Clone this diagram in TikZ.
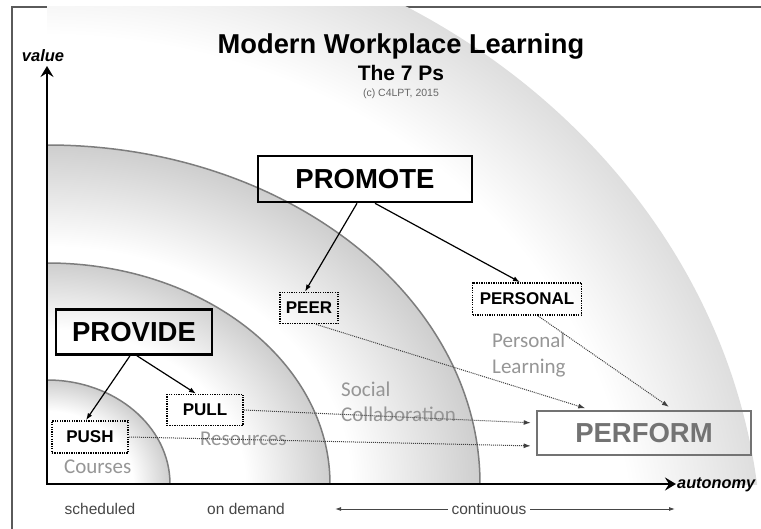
\documentclass[tikz,border=0pt]{standalone}
\usepackage{fontspec}
\setmainfont{Liberation Sans}
\newfontfamily\calib{Carlito}
\usetikzlibrary{arrows.meta}
\tikzset{>=latex}
\definecolor{framegray}{RGB}{90,90,90}
\definecolor{ringline}{RGB}{125,125,125}
\definecolor{ringfill}{RGB}{206,206,206}
\definecolor{outerfill}{RGB}{222,222,222}
\definecolor{labelgray}{RGB}{150,150,150}
\definecolor{performgray}{RGB}{115,115,115}
\definecolor{scalegray}{RGB}{70,70,70}
\pgfdeclareradialshading{ringshade}{\pgfpoint{0bp}{0bp}}{color(0bp)=(white); color(17.5bp)=(white); color(25bp)=(ringfill); color(50bp)=(ringfill)}
\pgfdeclareradialshading{outershade}{\pgfpoint{0bp}{0bp}}{color(0bp)=(white); color(20.5bp)=(white); color(25bp)=(outerfill); color(50bp)=(outerfill)}
\tikzstyle{ringedge}=[draw=ringline,line width=1.5pt]
\tikzstyle{axis}=[line width=2.8pt,{Stealth[length=11pt,width=13pt,inset=4pt]}-{Stealth[length=11pt,width=13pt,inset=4pt]}]
\tikzstyle{bigbox}=[draw=black,line width=2.6pt,inner sep=0pt,font=\fontsize{27.5}{28}\selectfont\bfseries]
\tikzstyle{dotbox}=[draw=black,line width=1.7pt,dash pattern=on 1.3pt off 1.1pt,inner sep=0pt,font=\fontsize{17}{17}\selectfont\bfseries]
\tikzstyle{ringlabel}=[text=labelgray,inner sep=0pt,anchor=base west,font=\calib\fontsize{21}{21}\selectfont]
\tikzstyle{scalelabel}=[text=scalegray,anchor=base,font=\fontsize{15.5}{16}\selectfont]
\tikzstyle{solidarrow}=[line width=1.2pt,-{Latex[length=7pt,width=5pt]}]
\tikzstyle{dotarrow}=[line width=1pt,black!75,dash pattern=on 1pt off 1pt,-{Latex[length=7pt,width=5pt]},shorten >=5pt]

\begin{document}
\begin{tikzpicture}[x=1pt,y=-1pt]
  \useasboundingbox (0,0) rectangle (761,529);
  \draw[framegray,line width=1.2pt] (12,529) -- (12,7) -- (761,7);

  % the rings
  \begin{scope}
    \clip (47,7) rectangle (761,484);
    \shade[shading=outershade] (47,560) ellipse [x radius=715,y radius=640];
    \shade[shading=ringshade] (47,484) ellipse [x radius=433,y radius=339];
    \draw[ringedge] (47,484) ellipse [x radius=433,y radius=339];
    \shade[shading=ringshade] (47,484) ellipse [x radius=283,y radius=221];
    \draw[ringedge] (47,484) ellipse [x radius=283,y radius=221];
    \shade[shading=ringshade] (47,484) ellipse [x radius=123,y radius=104];
    \draw[ringedge] (47,484) ellipse [x radius=123,y radius=104];
  \end{scope}

  % axes
  \coordinate (origin) at (47,484);
  \coordinate (ytop) at (47,66);
  \coordinate (xend) at (676,484);
  \draw[axis] (ytop) -- (origin) -- (xend);
  \node[anchor=base,font=\fontsize{16.5}{17}\selectfont\bfseries\itshape] (value) at (43,62) {value};
  \node[anchor=base west,inner sep=0pt,font=\fontsize{16.3}{17}\selectfont\bfseries\itshape] (autonomy) at (677,489) {autonomy};

  % titles
  \node[anchor=base,font=\fontsize{27.3}{28}\selectfont\bfseries] (title) at (401,54) {Modern Workplace Learning};
  \node[anchor=base,font=\fontsize{21}{21}\selectfont\bfseries] (sub) at (401,81) {The 7 Ps};
  \node[anchor=base,text=black!60,font=\fontsize{10.5}{11}\selectfont] (copy) at (401,97) {(c) C4LPT, 2015};

  % ring labels
  \node[ringlabel] (courses) at (64,474) {Courses};
  \node[ringlabel] (resources) at (200,446) {Resources};
  \node[ringlabel] (social) at (341,397) {Social};
  \node[ringlabel] (collab) at (341,421) {Collaboration};
  \node[ringlabel] (personal) at (492,348) {Personal};
  \node[ringlabel] (learning) at (492,374) {Learning};

  % scale under the axis
  \node[scalelabel] (sched) at (100,514) {scheduled};
  \node[scalelabel] (demand) at (246,514) {on demand};
  \node[scalelabel] (continuous) at (489,514) {continuous};
  \coordinate (contleft) at (335,509);
  \coordinate (contright) at (675,509);
  \draw[scalegray,line width=0.9pt,-{Latex[length=6pt,width=4pt]}] (continuous.west |- contleft) -- (contleft);
  \draw[scalegray,line width=0.9pt,-{Latex[length=6pt,width=4pt]}] (continuous.east |- contright) -- (contright);

  % the Ps
  \node[bigbox,minimum width=214pt,minimum height=46pt] (promote) at (365,179) {PROMOTE};
  \node[bigbox,minimum width=156pt,minimum height=45pt] (provide) at (134,332) {PROVIDE};
  \node[bigbox,draw=performgray,text=performgray,minimum width=214pt,minimum height=44pt] (perform) at (644,433) {PERFORM};
  \node[dotbox,minimum width=58pt,minimum height=31pt] (peer) at (309,308) {PEER};
  \node[dotbox,minimum width=109pt,minimum height=32pt] (personalbox) at (527,299) {PERSONAL};
  \node[dotbox,minimum width=76pt,minimum height=32pt] (push) at (90,437) {PUSH};
  \node[dotbox,minimum width=76pt,minimum height=31pt] (pull) at (205,410) {PULL};

  \draw[solidarrow] ([xshift=-8pt]promote.south) -- ([xshift=-4pt]peer.north);
  \draw[solidarrow] ([xshift=10pt]promote.south) -- ([xshift=-7pt]personalbox.north);
  \draw[solidarrow] ([xshift=-4pt]provide.south) -- ([xshift=-4pt]push.north);
  \draw[solidarrow] ([xshift=3pt]provide.south) -- ([xshift=-9pt]pull.north);

  \draw[dotarrow] ([xshift=7pt]peer.south) -- ([xshift=-54pt]perform.north);
  \draw[dotarrow] ([xshift=11pt]personalbox.south) -- ([xshift=29pt]perform.north);
  \draw[dotarrow] (pull.east) -- ([yshift=10pt]perform.west);
  \draw[dotarrow] (push.east) -- ([yshift=-13pt]perform.west);
\end{tikzpicture}
\end{document}
